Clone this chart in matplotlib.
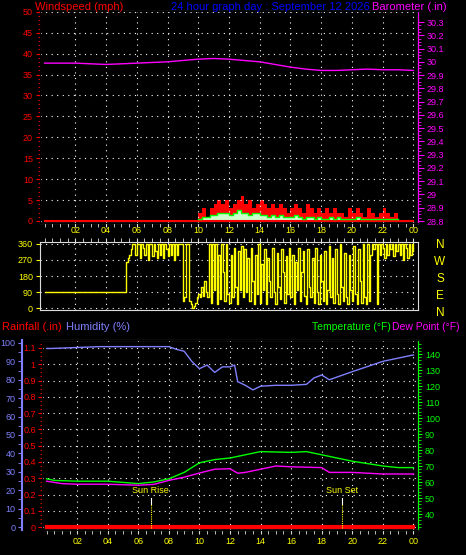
import numpy as np
import matplotlib
matplotlib.use("Agg")
import matplotlib.pyplot as plt
plt.rcParams['font.family'] = ['Liberation Sans', 'DejaVu Sans']

hours_ticks = [2,4,6,8,10,12,14,16,18,20,22,24]
tick_labels = ["02","04","06","08","10","12","14","16","18","20","22","00"]

baro_h = [0,1,2,3,4,5,6,7,8,9,10,11,12,13,14,15,16,17,18,19,20,21,22,23,24]
baro = [29.99,29.99,29.99,29.985,29.98,29.985,29.99,29.995,30.0,30.01,30.02,30.025,30.02,30.01,30.0,29.98,29.96,29.945,29.935,29.935,29.94,29.945,29.94,29.94,29.935]

gust = [2,3,1,3,4,5,4,5,3,4,5,6,4,5,3,4,5,4,3,4,3,4,3,2,3,4,3,2,4,3,2,3,2,3,2,3,2,2,1,3,2,3,2,1,3,2,1,2,3,2,1,2,1]
avg = [0.5,1,1,1.5,1.5,2,2,2,1.5,2,2.5,2,2,1.5,2,2,1.5,1.5,1,1.5,1,1.5,1,1,1,1.5,1,0.5,1,1,0.5,1,0.5,0.5,1,0.5,1,0.5,0.5,0.5,0.5,1,0.5,0.5,0.5,0.5,0.5,0.5,0.5,0.5,0.5,0.5,0.5]

dir_b = [260,280,300,330,360,360,300,360,360,280,360,340,300,360,270,360,360,290,360,320,280,360,300,360,280,360,330,290,360,300,360,270,360,300,360,360,360,180]
dir_c = [40,60,360,360,40,20,0,10,30,60,
 80,60,120,70,150,90,60,360,30,360,
 100,360,20,300,50,360,200,40,360,80,
 30,300,60,340,120,20,320,100,350,60,
 330,90,280,40,340,150,20,300,80,360,
 30,250,100,330,20,280,150,60,340,90,
 20,310,120,50,330,200,30,290,80,340,
 60,300,20,260,100,340,40,200,320,70,
 20,330,120,60,280,30,340,90,20,300,
 150,40,320,20,100,350,60,280,30,330,
 80,20,360,120,40,310,60,20,300,100,
 40,350,80,20,330,150,30,360,60,20,
 360,40,300,360,330,360,20,360,300,360,
 340,280,360,300,360,330,360,290,360,320,
 360,300,360,270,360,340,280,360,300,360,320]

temp_h = [0,0.5,2,4,6,7,8,9,10,11,12,12.5,13.5,14,16,17,18,19,20,22,23,24]
temp = [62,61,60.5,60.5,59,60,62,66,72,74,75,76,78,79,78.5,79,77,75,73,70,69,69]
dew_h = [0,1,2,4,6,7,8,9,10,11,12,12.5,13,14,15,16,18,18.5,20,22,24]
dew = [60.5,59,58.6,58.6,58,58.5,61,63,65.6,68,68.3,65.5,66,68,70,69.5,69,66,66,65,65]
hum_h = [0,0.3,3.5,8,8.5,9,9.5,10,10.5,11,11.5,12,12.3,12.5,13,13.5,14,15,16,17,17.5,18,18.5,20,22,24]
hum = [97,97,98,98,96.5,95.5,90,86,88,84,87,87,88,79,77,74.5,76.5,77,77,77.5,81,82.6,80,84.4,90,93.5]
rain_h = [0,24]
rain = [0,0]

W, H = 466, 555
fig = plt.figure(figsize=(W/100, H/100), dpi=100, facecolor="black")
fs = 6.5
tfs = 8
def ax_at(x0, y0, x1, y1):
    return fig.add_axes([x0/W, 1-y1/H, (x1-x0)/W, (y1-y0)/H], facecolor="black")

def style(ax):
    for s in ax.spines.values():
        s.set_color("#dddddd")
    ax.grid(True, color="white", linestyle=(0,(1,4)), linewidth=0.8)
    ax.set_xlim(-0.3, 24.3)
    ax.set_xticks(hours_ticks)
    ax.set_xticks(np.arange(0,24.1,0.5), minor=True)
    ax.tick_params(axis="x", colors="#dddddd", length=3, which="both")

# top panel
ax1 = ax_at(40, 11, 418, 223)
style(ax1)
ax1.set_xticklabels([])
ax1.set_ylim(-0.5, 50.2)
ax1.set_yticks(range(0, 51, 5))
ax1.set_yticks(range(0, 51, 1), minor=True)
ax1.tick_params(axis="y", colors="red", labelsize=fs, length=3, which="both", pad=2)
ax1.tick_params(axis="y", which="minor", length=1.5)
ax1.spines["left"].set_color("red")
gt = 10 + 0.25*np.arange(len(gust))
at = 10 + 0.25*np.arange(len(avg))
ax1.plot([0, 24], [0, 0], color="red", lw=1.5)
ax1.fill_between(gt, gust, step="post", color="red", lw=0)
ax1.fill_between(at, avg, step="post", color="#ccffcc", lw=0)
ax1.step(at, avg, where="post", color="#00ff00", lw=1)
axb = ax1.twinx()
axb.set_ylim(28.785, 30.383)
bt = np.round(np.arange(28.8, 30.31, 0.1), 1)
axb.set_yticks(bt)
axb.set_yticklabels([f"{v:g}" for v in bt])
axb.set_yticks(np.arange(28.8, 30.31, 0.025), minor=True)
axb.tick_params(axis="y", colors="magenta", labelsize=fs, length=4, which="both", pad=2)
axb.tick_params(axis="y", which="minor", length=2)
axb.spines["right"].set_color("magenta")
axb.plot(baro_h, baro, color="magenta", lw=1)
fig.text(35/W, 1-7/H, "Windspeed (mph)", color="red", fontsize=tfs, va="center")
fig.text(171/W, 1-7/H, "24 hour graph day : September 12 2026", color="#0000ff", fontsize=tfs, va="center")
fig.text(372/W, 1-7/H, "Barometer (.in)", color="magenta", fontsize=tfs, va="center")

# wind direction
ax2 = ax_at(40, 242, 418, 310)
style(ax2)
ax2.xaxis.tick_top()
ax2.set_xticklabels(tick_labels)
ax2.tick_params(axis="x", labelcolor="yellow", labelsize=fs, pad=2)
ax2.set_ylim(-11, 371)
ax2.set_yticks([0, 90, 180, 270, 360])
ax2.tick_params(axis="y", colors="yellow", labelsize=fs, length=3, pad=2)
db_t = 5.3 + 0.1*np.arange(len(dir_b))
dc_t = 9.0 + 0.1*np.arange(len(dir_c))
t_all = np.concatenate([[0], db_t, dc_t])
d_all = np.concatenate([[90], dir_b, dir_c])
ax2.step(t_all, d_all, where="post", color="yellow", lw=1)
for lab, y in zip(["N", "W", "S", "E", "N"], [245, 262, 279, 296, 313]):
    fig.text(440/W, 1-y/H, lab, color="yellow", fontsize=8.5, va="center", ha="center")

# bottom panel
ax3 = ax_at(42, 340, 418, 530)
style(ax3)
ax3.set_xticklabels(tick_labels)
ax3.tick_params(axis="x", labelcolor="yellow", labelsize=fs, pad=2)
ax3.set_ylim(-0.018, 1.149)
rt = np.round(np.arange(0, 1.11, 0.1), 1)
ax3.set_yticks(rt)
ax3.set_yticklabels([f"{v:g}" for v in rt])
ax3.set_yticks(np.arange(0, 1.15, 0.025), minor=True)
ax3.tick_params(axis="y", colors="red", labelsize=fs, length=3, which="both", pad=1.5)
ax3.tick_params(axis="y", which="minor", length=1.5)
ax3.spines["left"].set_color("red")
ax3.plot(rain_h, rain, color="red", lw=3)
axh = ax3.twinx()
axh.yaxis.tick_left()
axh.spines["left"].set_position(("axes", -20/376))
axh.spines["left"].set_visible(True)
axh.spines["left"].set_color("#8080ff")
axh.spines["left"].set_linewidth(1.5)
axh.set_ylim(-1.6, 101.6)
axh.set_yticks(range(0, 101, 10))
axh.set_yticks(range(0, 101, 5), minor=True)
axh.tick_params(axis="y", colors="#8080ff", labelsize=fs, length=3, which="both", pad=1.5)
axh.plot(hum_h, hum, color="#8080ff", lw=1)
axt = ax3.twinx()
axt.set_ylim(30, 148.75)
axt.set_yticks(range(40, 141, 10))
axt.set_yticks(range(32, 148, 2), minor=True)
axt.tick_params(axis="y", colors="#00ff00", labelsize=fs, length=3, which="both", pad=2)
axt.tick_params(axis="y", which="minor", length=2)
axt.spines["right"].set_color("#00ff00")
axt.plot(temp_h, temp, color="#00ff00", lw=1)
axt.plot(dew_h, dew, color="magenta", lw=1)
for hx, lab in [(6.8, "Sun Rise"), (19.3, "Sun Set")]:
    axt.plot([hx, hx], [31, 46], color="yellow", lw=0.8, linestyle=(0, (1, 1)))
    axt.plot([hx, hx], [46, 50], color="white", lw=0.8)
    axt.text(hx, 52, lab, color="yellow", fontsize=fs, ha="center", va="bottom")
fig.text(2/W, 1-327/H, "Rainfall (.in)", color="red", fontsize=tfs, va="center")
fig.text(66/W, 1-327/H, "Humidity (%)", color="#8080ff", fontsize=tfs, va="center")
fig.text(391/W, 1-327/H, "Temperature (°F)", color="#00ff00", fontsize=7.5, va="center", ha="right")
fig.text(392/W, 1-327/H, "Dew Point (°F)", color="magenta", fontsize=7.5, va="center")

fig.savefig("out.png", dpi=100, facecolor="black")
